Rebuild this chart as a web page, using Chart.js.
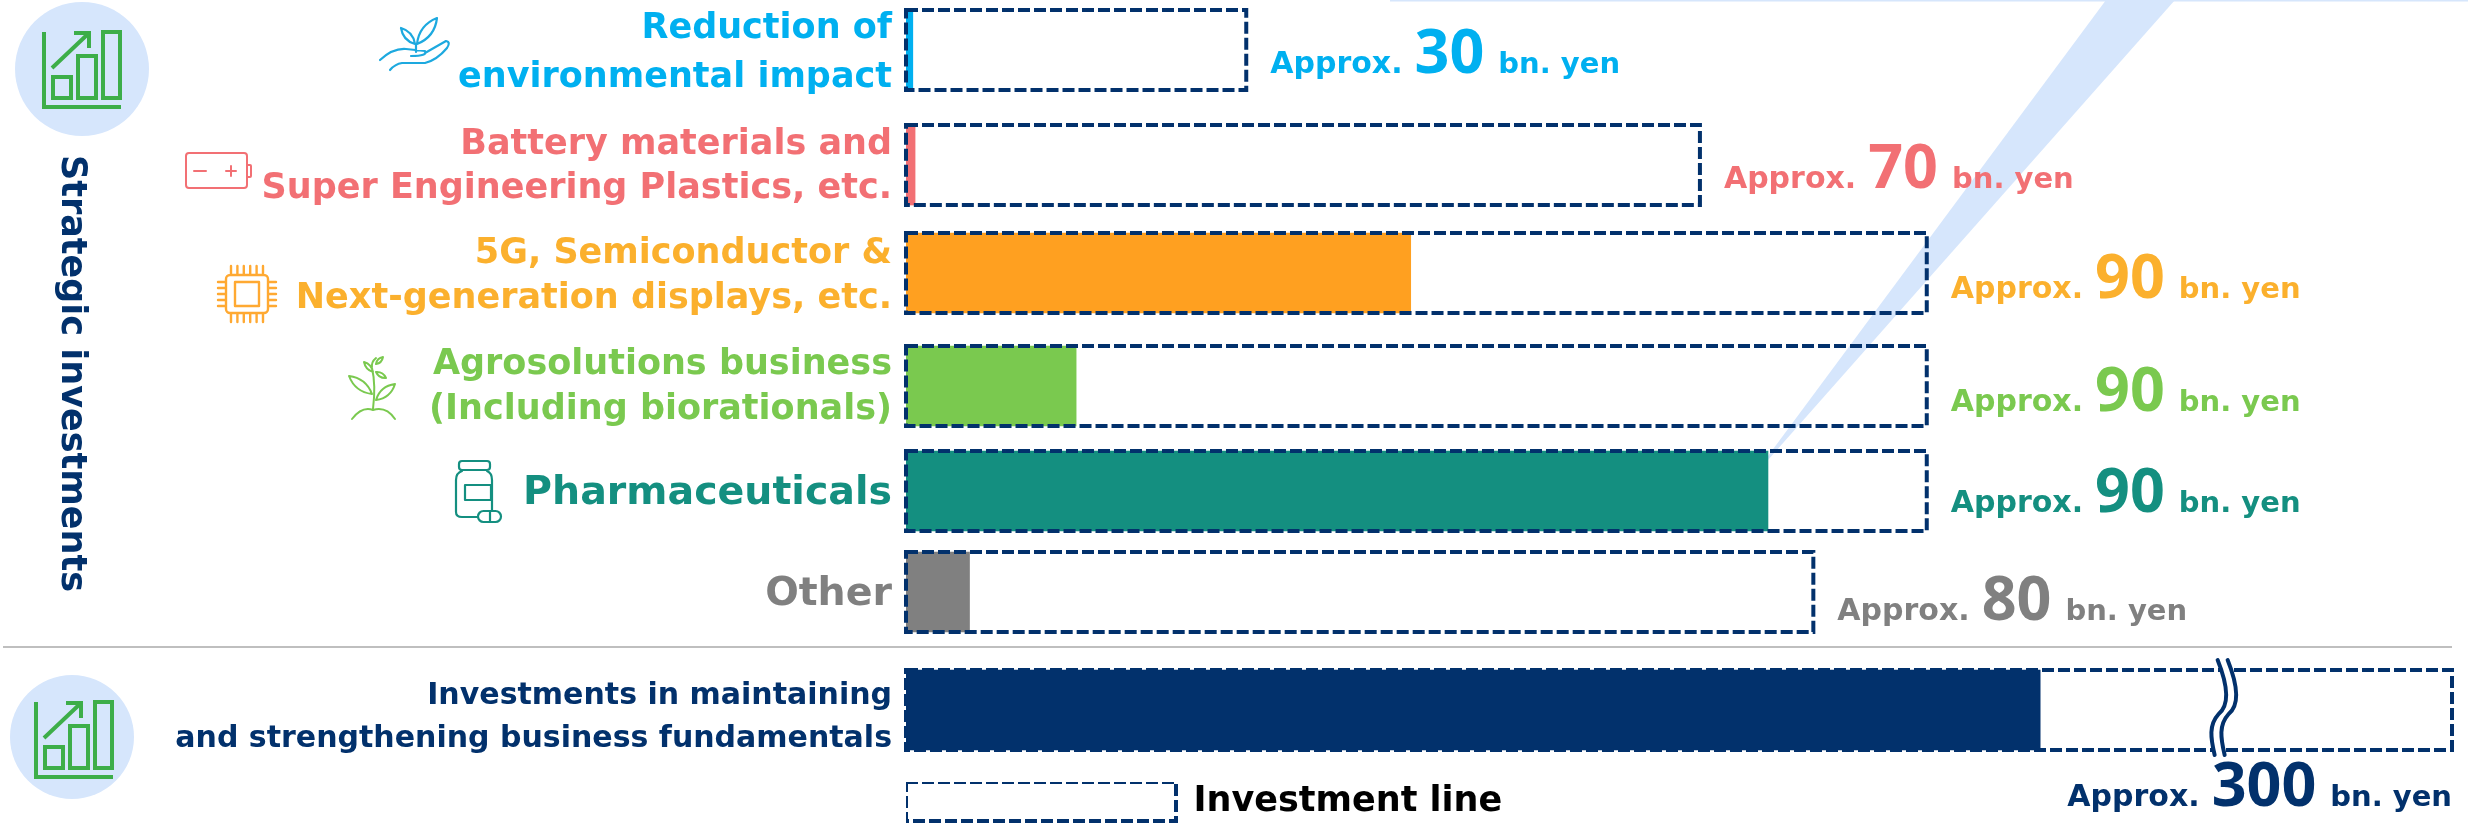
<!DOCTYPE html>
<html lang="en">
<head>
<meta charset="utf-8">
<title>Strategic investments</title>
<style>
  html, body { margin: 0; padding: 0; background: #fff; }
  canvas { display: block; }
</style>
<script src="https://cdn.jsdelivr.net/npm/chart.js@4/dist/chart.umd.min.js"></script>
</head>
<body>
<canvas id="chart" width="2468" height="828"></canvas>
<script>
// ---- Values, in billions of yen ----
const categories = [
  ['Reduction of', 'environmental impact'],
  ['Battery materials and', 'Super Engineering Plastics, etc.'],
  ['5G, Semiconductor &', 'Next-generation displays, etc.'],
  ['Agrosolutions business', '(Including biorationals)'],
  ['Pharmaceuticals'],
  ['Other'],
  ['Investments in maintaining', 'and strengthening business fundamentals']
];
const investmentLine = [30, 70, 90, 90, 90, 80, 300];
const filledAmount = [0.6, 0.8, 44.5, 15, 76, 5.6, 100];

// ---- Colours per row ----
const barColours = ['#00B0F0', '#F27074', '#FFA020', '#7AC94F', '#148F80', '#808080', '#02316C'];
const textColours = ['#00B0F0', '#F27074', '#FBB02D', '#7AC94F', '#148F80', '#808080', '#02316C'];
const NAVY = '#02316C';
const FONT = '"DejaVu Sans"';
const FIGURE_FONT = '"Open Sans"';

// ---- Layout ----
const rowCentres = [50, 165, 273, 386, 491, 592, 710];
const rowLabelCentres = [53, 167, 276, 387, 494, 595, 718];
const rowLabelSizes = [35, 35, 35, 35, 39.5, 39.5, 30];
const rowLineHeights = [49, 44, 45, 45, 46, 46, 43];
const valueBaselineDrops = [23, 23, 25, 25, 21, 28, 96];
const BREAK_VALUE = 116;
const BREAK_FRACTION = 0.851;
const LINE_DASH = [12, 4];

// Category axis whose rows sit at hand-set heights rather than evenly.
class PlacedCategoryScale extends Chart.CategoryScale {
  static id = 'placedCategory';
  static defaults = Chart.CategoryScale.defaults;
  getPixelForValue(value) {
    const i = typeof value === 'number' ? value : this.parse(value);
    return this.top + rowCentres[i];
  }
  getPixelForTick(index) {
    return this.top + rowLabelCentres[index];
  }
}

// Linear axis with a break: true scale up to BREAK_VALUE, compressed after it.
class BrokenLinearScale extends Chart.LinearScale {
  static id = 'brokenLinear';
  static defaults = Chart.LinearScale.defaults;
  getPixelForValue(value) {
    const f = value <= BREAK_VALUE
      ? value / BREAK_VALUE * BREAK_FRACTION
      : BREAK_FRACTION + (value - BREAK_VALUE) / (this.max - BREAK_VALUE) * (1 - BREAK_FRACTION);
    return this.left + f * this.width;
  }
}
Chart.register(PlacedCategoryScale, BrokenLinearScale);

function strokePath(ctx, colour, width, fn) {
  ctx.save();
  ctx.strokeStyle = colour;
  ctx.lineWidth = width;
  ctx.lineJoin = 'round';
  ctx.lineCap = 'round';
  ctx.beginPath();
  fn(ctx);
  ctx.stroke();
  ctx.restore();
}

function roundRect(ctx, x0, y0, x1, y1, r) {
  ctx.roundRect(x0, y0, x1 - x0, y1 - y0, r);
}

function leaf(ctx, x0, y0, x1, y1, bulge) {
  const mx = (x0 + x1) / 2, my = (y0 + y1) / 2;
  const dx = x1 - x0, dy = y1 - y0;
  ctx.moveTo(x0, y0);
  ctx.quadraticCurveTo(mx - dy * bulge, my + dx * bulge, x1, y1);
  ctx.quadraticCurveTo(mx + dy * bulge, my - dx * bulge, x0, y0);
}

// Round badge with a rising bar chart inside it.
function drawGrowthBadge(ctx, cx, cy, r, ox, oy) {
  ctx.fillStyle = '#D6E6FC';
  ctx.beginPath();
  ctx.arc(cx, cy, r, 0, Math.PI * 2);
  ctx.fill();
  const green = '#3DAE49';
  ctx.save();
  ctx.strokeStyle = green;
  ctx.lineWidth = 4;
  ctx.beginPath();
  ctx.moveTo(ox, oy);
  ctx.lineTo(ox, oy + 75);
  ctx.lineTo(ox + 77, oy + 75);
  ctx.strokeRect(ox + 9, oy + 45, 18, 21);
  ctx.strokeRect(ox + 34, oy + 24, 18, 42);
  ctx.strokeRect(ox + 59, oy, 17, 66);
  ctx.moveTo(ox + 8, oy + 36);
  ctx.lineTo(ox + 45, oy + 1);
  ctx.moveTo(ox + 30, oy + 1);
  ctx.lineTo(ox + 45, oy + 1);
  ctx.lineTo(ox + 45, oy + 16);
  ctx.stroke();
  ctx.restore();
}

function drawPlantInHand(ctx) {
  strokePath(ctx, '#1DA9DF', 2.2, c => {
    leaf(c, 415, 44, 401, 28, 0.32);
    leaf(c, 417, 44, 437, 18, 0.3);
    c.moveTo(416, 44); c.lineTo(416, 52);
    c.moveTo(380, 60);
    c.quadraticCurveTo(393, 48, 406, 49);
    c.lineTo(425, 51);
    c.quadraticCurveTo(428, 56, 411, 56);
    c.moveTo(425, 53);
    c.lineTo(446, 41);
    c.quadraticCurveTo(451, 42, 447, 48);
    c.quadraticCurveTo(437, 60, 425, 63);
    c.lineTo(402, 63);
    c.quadraticCurveTo(395, 64, 390, 70);
  });
}

function drawBattery(ctx) {
  strokePath(ctx, '#F27074', 2, c => {
    roundRect(c, 186, 153, 247, 188, 3);
    roundRect(c, 247, 165, 251, 177, 1);
    c.moveTo(194, 171); c.lineTo(206, 171);
    c.moveTo(226, 171); c.lineTo(236, 171);
    c.moveTo(231, 166); c.lineTo(231, 176);
  });
}

function drawChip(ctx) {
  strokePath(ctx, '#FFA932', 2.4, c => {
    roundRect(c, 226, 275, 268, 313, 4);
    c.rect(235, 282, 24, 24);
    for (let x = 231; x <= 263; x += 6.4) {
      c.moveTo(x, 266); c.lineTo(x, 275);
      c.moveTo(x, 313); c.lineTo(x, 322);
    }
    for (let y = 282; y <= 306; y += 6) {
      c.moveTo(218, y); c.lineTo(226, y);
      c.moveTo(268, y); c.lineTo(276, y);
    }
  });
}

function drawSeedling(ctx) {
  strokePath(ctx, '#7AC94F', 2, c => {
    c.moveTo(373, 409);
    c.quadraticCurveTo(376, 385, 372, 368);
    c.quadraticCurveTo(371, 362, 376, 358);
    c.moveTo(352, 419);
    c.quadraticCurveTo(362, 406, 373, 410);
    c.quadraticCurveTo(386, 406, 395, 419);
    leaf(c, 372, 394, 349, 376, 0.3);
    leaf(c, 376, 400, 395, 384, 0.32);
    leaf(c, 373, 372, 364, 362, 0.3);
    leaf(c, 376, 372, 386, 378, 0.35);
    leaf(c, 376, 364, 383, 357, 0.35);
  });
}

function drawBottle(ctx) {
  strokePath(ctx, '#148F80', 2.2, c => {
    roundRect(c, 459, 461, 490, 470, 3);
    c.moveTo(478, 517);
    c.lineTo(462, 517);
    c.quadraticCurveTo(456, 517, 456, 512);
    c.lineTo(456, 480);
    c.quadraticCurveTo(456, 473, 462, 471);
    c.moveTo(487, 471);
    c.quadraticCurveTo(492, 473, 492, 480);
    c.lineTo(492, 510);
    c.rect(465, 485, 26, 15);
    roundRect(c, 478, 511, 501, 522, 6);
    c.moveTo(490, 511); c.lineTo(490, 522);
  });
}

// Break mark: two wavy strokes over a white gap.
function drawAxisBreak(ctx, x) {
  const wave = (c, dx) => {
    c.moveTo(x - 4 + dx, 660);
    c.bezierCurveTo(x + 6 + dx, 685, x + 8 + dx, 705, x + dx - 3, 714);
    c.bezierCurveTo(x - 13 + dx, 725, x - 11 + dx, 738, x - 7 + dx, 755);
  };
  strokePath(ctx, '#fff', 12, c => wave(c, 5));
  strokePath(ctx, NAVY, 4, c => { wave(c, 0); wave(c, 10); });
}

const decoration = {
  id: 'decoration',
  beforeDraw(chart) {
    const { ctx } = chart;
    ctx.save();
    // Pale sweep behind the upper rows
    ctx.fillStyle = '#D6E6FC';
    ctx.beginPath();
    ctx.moveTo(2106, 0);
    ctx.lineTo(2175, 0);
    ctx.lineTo(1768, 460);
    ctx.lineTo(1765, 460);
    ctx.closePath();
    ctx.fill();
    ctx.fillRect(1390, 0, 1078, 1.5);
    // Divider between the two investment groups
    ctx.fillStyle = '#BFBFBF';
    ctx.fillRect(3, 646, 2449, 2);
    ctx.restore();
  },
  afterDatasetsDraw(chart) {
    const { ctx } = chart;
    ctx.save();
    ctx.strokeStyle = NAVY;
    ctx.lineWidth = 4;
    ctx.setLineDash(LINE_DASH);
    chart.getDatasetMeta(1).data.forEach(bar => {
      const { x, y, base, height } = bar.getProps(['x', 'y', 'base', 'height'], true);
      ctx.strokeRect(base, y - height / 2, x - base, height);
    });
    ctx.restore();
    drawAxisBreak(ctx, chart.scales.x.getPixelForValue(BREAK_VALUE));
  },
  afterDraw(chart) {
    const { ctx } = chart;
    const xScale = chart.scales.x, yScale = chart.scales.y;
    drawGrowthBadge(ctx, 82, 69, 67, 44, 32);
    drawGrowthBadge(ctx, 72, 737, 62, 36, 702);
    drawPlantInHand(ctx);
    drawBattery(ctx);
    drawChip(ctx);
    drawSeedling(ctx);
    drawBottle(ctx);

    // Vertical group title
    ctx.save();
    ctx.translate(62, 155);
    ctx.rotate(Math.PI / 2);
    ctx.fillStyle = NAVY;
    ctx.font = `bold 35px ${FONT}`;
    ctx.textBaseline = 'alphabetic';
    ctx.fillText('Strategic investments', 0, 0);
    ctx.restore();

    // Amount labels: small text, large figure, small text
    investmentLine.forEach((value, i) => {
      const lead = `bold 30px ${FONT}`, tail = `bold 29px ${FONT}`, big = `bold 61px ${FIGURE_FONT}`;
      const number = String(value);
      const leadGap = 12, tailGap = 14;
      ctx.save();
      ctx.fillStyle = textColours[i];
      ctx.textBaseline = 'alphabetic';
      ctx.font = lead;
      const w1 = ctx.measureText('Approx.').width;
      ctx.font = tail;
      const w3 = ctx.measureText('bn. yen').width;
      ctx.font = big;
      const w2 = ctx.measureText(number).width;
      const end = xScale.getPixelForValue(value);
      const total = w1 + leadGap + w2 + tailGap + w3;
      const x = i === 6 ? end - total : end + 24;
      const y = yScale.getPixelForValue(i) + valueBaselineDrops[i];
      ctx.font = lead;
      ctx.fillText('Approx.', x, y);
      ctx.font = tail;
      ctx.fillText('bn. yen', x + w1 + leadGap + w2 + tailGap, y);
      ctx.font = big;
      ctx.fillText(number, x + w1 + leadGap, y);
      ctx.restore();
    });
  },
  afterLayout(chart) {
    chart.legend.left = chart.chartArea.left;
    chart.legend.top = 782;
  }
};

new Chart(document.getElementById('chart'), {
  type: 'bar',
  plugins: [decoration],
  data: {
    labels: categories,
    datasets: [
      {
        label: 'Filled',
        data: filledAmount,
        backgroundColor: barColours,
        borderWidth: 0,
        grouped: false,
        barThickness: 80
      },
      {
        label: 'Investment line',
        data: investmentLine,
        backgroundColor: 'transparent',
        borderWidth: 0,
        grouped: false,
        barThickness: 80
      }
    ]
  },
  options: {
    indexAxis: 'y',
    responsive: false,
    animation: false,
    layout: { padding: { right: 16, bottom: 5 } },
    scales: {
      x: {
        type: 'brokenLinear',
        min: 0,
        max: 300,
        display: false
      },
      y: {
        type: 'placedCategory',
        grid: { display: false, drawTicks: false },
        border: { display: false },
        afterFit(scale) {
          scale.width = 906;
          scale.paddingTop = 0;
          scale.paddingBottom = 0;
        },
        ticks: {
          autoSkip: false,
          padding: 14,
          color: ctx => textColours[ctx.index],
          font: ctx => ({
            family: FONT,
            weight: 'bold',
            size: rowLabelSizes[ctx.index],
            lineHeight: rowLineHeights[ctx.index] + 'px'
          })
        }
      }
    },
    plugins: {
      tooltip: { enabled: false },
      legend: {
        position: 'bottom',
        align: 'start',
        onClick: null,
        labels: {
          padding: 0,
          boxWidth: 270,
          boxHeight: 39,
          color: '#000',
          font: { family: FONT, weight: 'bold', size: 35 },
          generateLabels: () => [{
            text: 'Investment line',
            fillStyle: 'transparent',
            strokeStyle: NAVY,
            lineWidth: 4,
            lineDash: LINE_DASH
          }]
        }
      }
    }
  }
});
</script>
</body>
</html>
